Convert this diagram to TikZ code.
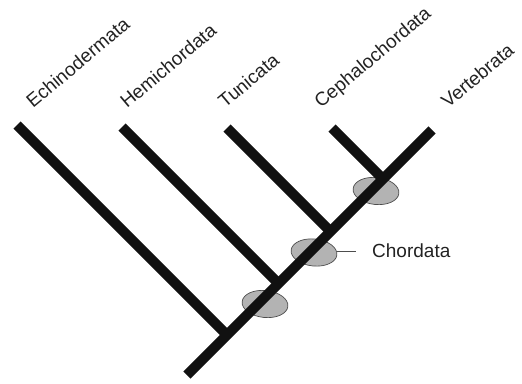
\documentclass[tikz,border=0pt]{standalone}
\usepackage{fontspec}
\setmainfont{Liberation Sans}
\usepackage{tikz}
\usetikzlibrary{shapes.geometric,calc}
\definecolor{ink}{HTML}{111111}
\definecolor{apofill}{HTML}{B3B3B3}
\definecolor{apoline}{HTML}{4D4D4D}
\definecolor{labtext}{HTML}{222222}
\tikzset{
  vbranch/.style={line width=10pt,draw=ink,line cap=butt},
  vapo/.style={ellipse,draw=apoline,fill=apofill,line width=0.7pt,minimum width=46pt,minimum height=27pt,inner sep=0pt,rotate=-6},
  vtaxon/.style={anchor=base west,rotate=40,inner sep=0pt,text=labtext},
  vlink/.style={line width=0.8pt,draw=apoline}
}

\begin{document}
\begin{tikzpicture}[x=1pt,y=-1pt,font=\fontsize{19}{23}\selectfont]
  \useasboundingbox (0,0) rectangle (522,383);
  \node[vapo] (apo1) at (265,304) {};
  \node[vapo] (apo2) at (314,252.5) {};
  \node[vapo] (apo3) at (376,191) {};
  \coordinate (root) at (187,375);
  \coordinate (vert) at (432,130);
  \foreach \n/\tx/\ty/\jx/\jy in {echi/17/125/227/335, hemi/122/127/278.5/283.5,
       tuni/227/128/330.5/231.5, ceph/332/128/383/179}{
    \coordinate (\n-tip) at (\tx,\ty);
    \coordinate (\n-join) at (\jx,\jy);
    \draw[vbranch] (\n-tip) -- (\n-join);
  }
  \draw[vbranch] (root) -- (vert);
  \foreach \n/\x/\txt in {echi/33/Echinodermata, hemi/127/Hemichordata, tuni/225/Tunicata,
       ceph/321/Cephalochordata, vert/448/Vertebrata}{
    \node[vtaxon] (lab-\n) at (\x,109) {\txt};
  }
  \node[anchor=west,inner xsep=16pt,inner ysep=0pt,text=labtext] (chordata) at (356,251) {Chordata};
  \draw[vlink] (apo2.east |- chordata.west) -- (chordata.west);
\end{tikzpicture}
\end{document}
